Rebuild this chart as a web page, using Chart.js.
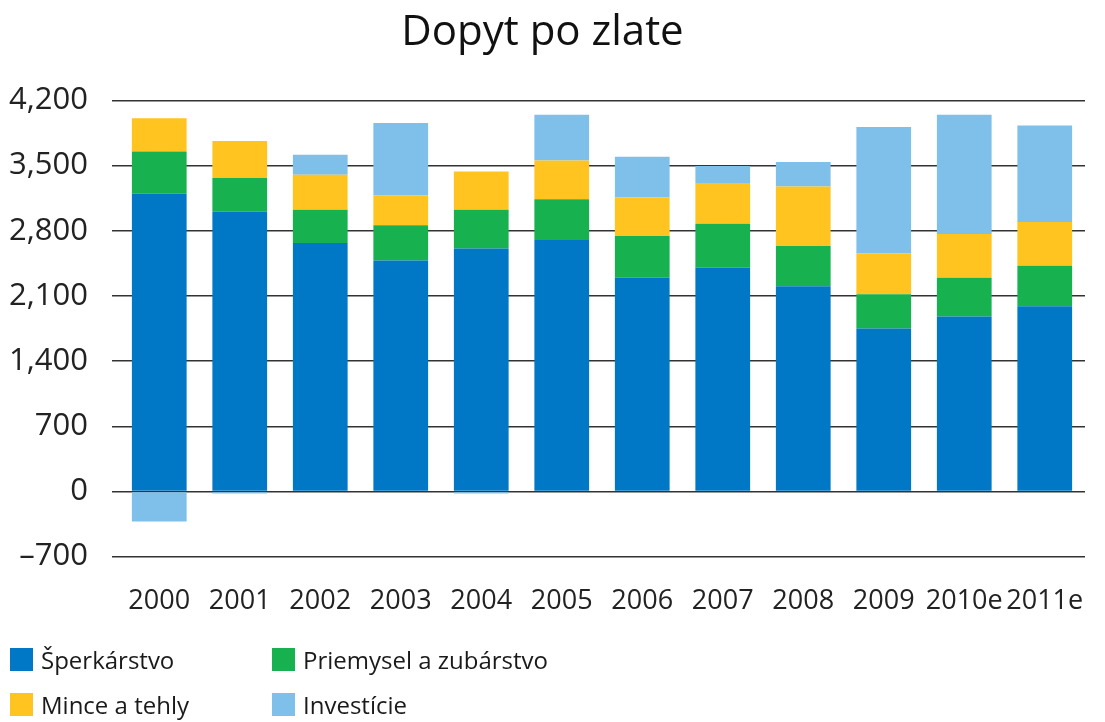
<!DOCTYPE html>
<html lang="sk">
<head>
<meta charset="utf-8">
<title>Dopyt po zlate</title>
<script src="https://cdn.jsdelivr.net/npm/chart.js@4.4.1/dist/chart.umd.min.js"></script>
<style>
  html,body{margin:0;padding:0;background:#fff}
  .wrap{position:relative;width:1105px;height:722px}
  canvas{display:block}
  .legend{position:absolute;left:10px;top:647px;display:grid;grid-template-columns:262px auto;row-gap:21px;
    font:24px "Open Sans",sans-serif;color:#1a1a1a}
  .legend span{display:flex;align-items:center;height:24px;white-space:nowrap}
  .legend i{display:inline-block;width:23px;height:23px;margin-right:8px}
</style>
</head>
<body>
<div class="wrap">
  <canvas id="gold" width="1105" height="722"></canvas>
  <div class="legend" id="legend"></div>
</div>
<script>
// Dopyt po zlate (ton) - stacked bars
const years = ['2000','2001','2002','2003','2004','2005','2006','2007','2008','2009','2010e','2011e'];
const jewellery = [3198, 3008, 2669, 2480, 2608, 2701, 2294, 2404, 2204, 1751, 1879, 1990];
const industry  = [453, 358, 357, 378, 418, 436, 450, 472, 433, 367, 415, 433];
const coins     = [358, 397, 375, 322, 411, 418, 414, 436, 639, 440, 472, 471];
const investment = [-322, -22, 215, 776, -22, 490, 436, 183, 262, 1355, 1279, 1036];
const yTicks = [-700, 0, 700, 1400, 2100, 2800, 3500, 4200];

const font = '"Open Sans", sans-serif';
const fmt = v => v < 0 ? '\u2013' + Math.abs(v) : v.toLocaleString('en-US');

const chart = new Chart(document.getElementById('gold'), {
  type: 'bar',
  data: {
    labels: years,
    datasets: [
      { label: 'Šperkárstvo', data: jewellery, backgroundColor: '#0078c5' },
      { label: 'Priemysel a zubárstvo', data: industry, backgroundColor: '#17b14f' },
      { label: 'Mince a tehly', data: coins, backgroundColor: '#ffc41f' },
      { label: 'Investície', data: investment, backgroundColor: '#7fc0ea' }
    ]
  },
  options: {
    responsive: false,
    animation: false,
    datasets: { bar: { barPercentage: 0.68, categoryPercentage: 1, borderWidth: 0 } },
    layout: { padding: { left: 0, right: 20, bottom: 75 } },
    plugins: {
      legend: { display: false },
      tooltip: { enabled: false },
      title: {
        display: true,
        text: 'Dopyt po zlate',
        color: '#111',
        font: { family: font, size: 42, weight: 'normal' },
        padding: { top: 8, bottom: 42 }
      }
    },
    scales: {
      x: {
        stacked: true,
        afterFit: s => { s.paddingLeft = 0; s.paddingRight = 0; },
        grid: { display: false, drawTicks: false },
        border: { display: false },
        ticks: { color: '#222', font: { family: font, size: 27 }, padding: 29, maxRotation: 0, autoSkip: false }
      },
      y: {
        stacked: true,
        min: -700, max: 4200,
        afterBuildTicks: s => { s.ticks = yTicks.map(v => ({ value: v })); },
        afterFit: s => { s.width = 119; },
        grid: { color: '#333', lineWidth: 1.5, tickLength: 7 },
        border: { display: false },
        ticks: { color: '#222', font: { family: font, size: 31 }, padding: 24, callback: fmt }
      }
    }
  }
});

// Legend in two columns, built from the datasets
const legend = document.getElementById('legend');
[0, 1, 2, 3].forEach(i => {
  const ds = chart.data.datasets[i];
  const item = document.createElement('span');
  item.innerHTML = '<i style="background:' + ds.backgroundColor + '"></i>' + ds.label;
  legend.appendChild(item);
});
</script>
</body>
</html>
